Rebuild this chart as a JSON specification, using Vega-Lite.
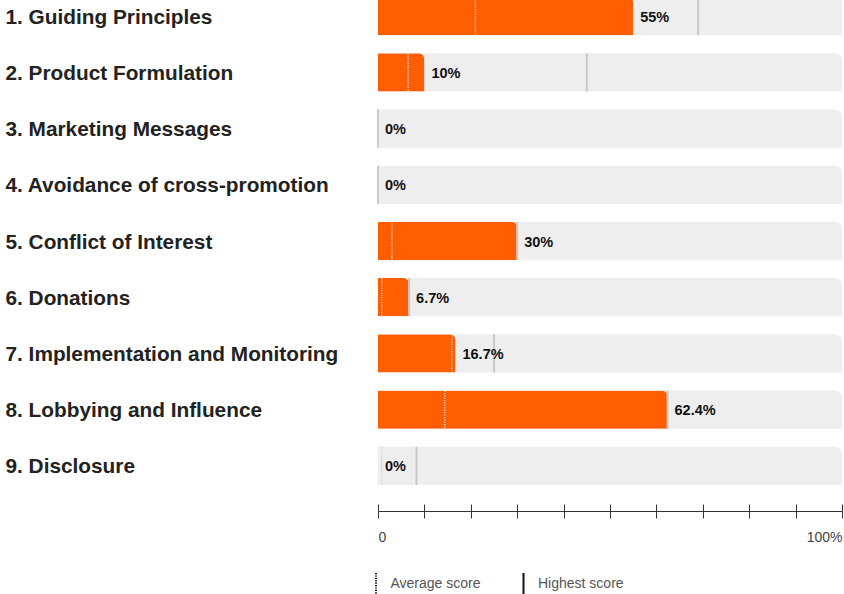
{
  "$schema": "https://vega.github.io/schema/vega-lite/v6.json",
  "autosize": {"type": "none"},
  "width": 464,
  "height": 494,
  "padding": {"left": 378, "top": 0, "right": 2, "bottom": 100},
  "background": "white",
  "config": {
    "view": {"stroke": null},
    "font": "Liberation Sans",
    "axis": {"grid": false}
  },
  "data": {
    "values": [
      {"principle": "1. Guiding Principles", "score": 0.55, "average": 0.21, "highest": 0.69},
      {"principle": "2. Product Formulation", "score": 0.10, "average": 0.065, "highest": 0.45},
      {"principle": "3. Marketing Messages", "score": 0, "average": 0, "highest": 0},
      {"principle": "4. Avoidance of cross-promotion", "score": 0, "average": 0, "highest": 0},
      {"principle": "5. Conflict of Interest", "score": 0.30, "average": 0.03, "highest": 0.30},
      {"principle": "6. Donations", "score": 0.067, "average": 0.008, "highest": 0.067},
      {"principle": "7. Implementation and Monitoring", "score": 0.167, "average": 0.159, "highest": 0.25},
      {"principle": "8. Lobbying and Influence", "score": 0.624, "average": 0.144, "highest": 0.624},
      {"principle": "9. Disclosure", "score": 0, "average": 0.008, "highest": 0.083}
    ]
  },
  "encoding": {
    "y": {
      "field": "principle",
      "type": "nominal",
      "sort": null,
      "scale": {"range": [-3, 485], "paddingInner": 0.3185, "paddingOuter": 0},
      "axis": {
        "title": null,
        "domain": false,
        "ticks": false,
        "labelAlign": "left",
        "labelBaseline": "middle",
        "labelPadding": 373,
        "labelOffset": 1.5,
        "labelFont": "Liberation Sans",
        "labelFontSize": 20.8,
        "labelFontWeight": "bold",
        "labelColor": "#222222",
        "labelLimit": 400
      }
    }
  },
  "layer": [
    {
      "mark": {"type": "bar", "color": "#eeeeee", "cornerRadiusTopRight": 7},
      "encoding": {
        "x": {
          "datum": 0,
          "type": "quantitative",
          "scale": {"domain": [0, 1], "nice": false, "zero": true},
          "axis": {
            "orient": "bottom",
            "title": null,
            "offset": 17,
            "values": [0, 0.1, 0.2, 0.3, 0.4, 0.5, 0.6, 0.7, 0.8, 0.9, 1],
            "labelExpr": "datum.value == 0 ? '0' : (datum.value == 1 ? '100%' : '')",
            "labelFlush": true,
            "labelFontSize": 14,
            "labelColor": "#444444",
            "labelPadding": 12,
            "domainColor": "#333333",
            "tickColor": "#333333",
            "tickSize": 7,
            "domainWidth": 1,
            "tickWidth": 1
          }
        },
        "x2": {"datum": 1}
      }
    },
    {
      "mark": {"type": "bar", "color": "#ff5e00", "cornerRadiusTopRight": 6},
      "encoding": {
        "x": {
          "field": "score",
          "type": "quantitative",
          "axis": {
            "orient": "top",
            "title": null,
            "offset": -511,
            "values": [0, 0.1, 0.2, 0.3, 0.4, 0.5, 0.6, 0.7, 0.8, 0.9, 1],
            "labels": false,
            "domain": false,
            "tickColor": "#333333",
            "tickSize": 7,
            "tickWidth": 1
          }
        }
      }
    },
    {
      "mark": {"type": "rule", "color": "#c8c8c8", "strokeWidth": 2},
      "encoding": {
        "x": {"field": "highest", "type": "quantitative", "axis": null},
        "y": {"field": "principle", "type": "nominal", "sort": null, "bandPosition": 0},
        "y2": {"field": "principle", "bandPosition": 1},
        "strokeDash": {
          "datum": "Highest score",
          "scale": {"domain": ["Average score", "Highest score"], "range": [[1.2, 1.2], [1, 0]]},
          "legend": {
            "title": null,
            "orient": "none",
            "direction": "horizontal",
            "legendX": -14,
            "legendY": 572,
            "padding": 0,
            "symbolType": "M0,-1L0,1",
            "symbolSize": 484,
            "symbolStrokeColor": "#111111",
            "symbolStrokeWidth": 2,
            "symbolOpacity": 1,
            "labelFont": "Liberation Sans",
            "labelFontSize": 14,
            "labelColor": "#555555",
            "labelOffset": 2.5,
            "columnPadding": 30.5,
            "encode": {
              "symbols": {
                "enter": {"stroke": {"value": "#111111"}, "strokeWidth": {"value": 2}, "opacity": {"value": 1}, "strokeOpacity": {"value": 1}},
                "update": {"stroke": {"value": "#111111"}, "strokeWidth": {"value": 2}, "opacity": {"value": 1}, "strokeOpacity": {"value": 1}}
              }
            }
          }
        }
      }
    },
    {
      "mark": {"type": "rule", "color": "#d4d4d4", "strokeWidth": 1.5, "strokeDash": [1.5, 2]},
      "encoding": {
        "x": {"field": "average", "type": "quantitative", "axis": null},
        "y": {"field": "principle", "type": "nominal", "sort": null, "bandPosition": 0},
        "y2": {"field": "principle", "bandPosition": 1},
        "strokeDash": {"datum": "Average score"}
      }
    },
    {
      "mark": {"type": "text", "align": "left", "baseline": "middle", "dx": 7, "dy": 1.5, "fontSize": 14.5, "fontWeight": "bold", "color": "#111111", "font": "Liberation Sans"},
      "encoding": {
        "x": {"field": "score", "type": "quantitative", "axis": null},
        "text": {"field": "score", "type": "quantitative", "format": ".1~%"}
      }
    }
  ],
  "resolve": {"axis": {"x": "independent"}}
}
